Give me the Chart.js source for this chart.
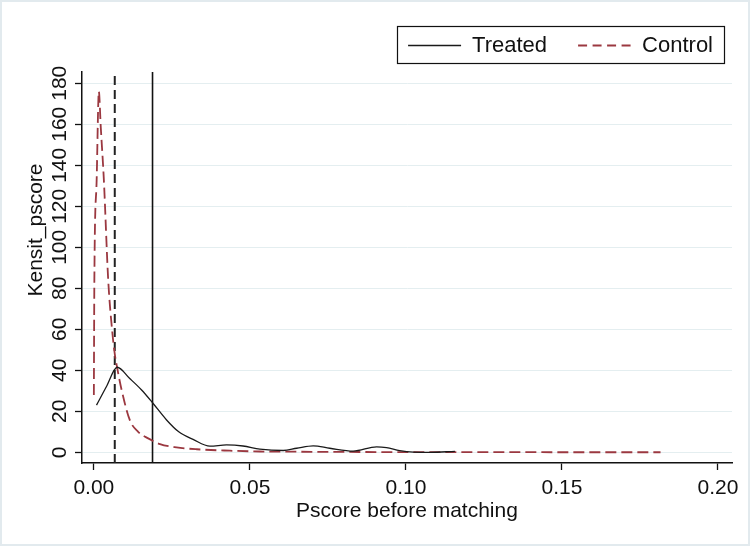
<!DOCTYPE html>
<html>
<head>
<meta charset="utf-8">
<script src="https://cdn.jsdelivr.net/npm/chart.js@4/dist/chart.umd.min.js"></script>
<style>
  html, body { margin: 0; padding: 0; background: #fff; }
  canvas { display: block; }
</style>
</head>
<body>
<canvas id="c" width="750" height="546"></canvas>
<script>
// ---- Data ----
const seriesNames = ["Treated", "Control"];
const treatedX = [0.00085, 0.004, 0.0075, 0.0115, 0.0153, 0.0188, 0.0233, 0.0272, 0.0318, 0.0372, 0.0425, 0.0478, 0.0532, 0.0607, 0.065, 0.0703, 0.0756, 0.0831, 0.0906, 0.0938, 0.098, 0.1024, 0.1077, 0.1157];
const treatedY = [23, 32, 41.5, 36, 30.4, 24.2, 15.8, 10, 6.3, 3.0, 3.6, 3.1, 1.6, 0.9, 2.0, 3.2, 2.0, 0.6, 2.7, 2.3, 0.8, 0.1, 0.0, 0.5];
const controlX = [0.0, 0.00016, 0.0009, 0.0016, 0.0022, 0.0032, 0.0046, 0.0059, 0.0067, 0.0075, 0.0089, 0.0115, 0.0142, 0.0174, 0.0212, 0.0265, 0.033, 0.0436, 0.0532, 0.065, 0.08, 0.1, 0.12, 0.15, 0.1816];
const controlY = [28, 84, 133, 176, 159, 133, 84, 58.8, 48, 41, 30.4, 15.8, 10, 6.8, 4, 2.4, 1.5, 0.8, 0.4, 0.3, 0.2, 0.1, 0.1, 0.05, 0.05];
const refLineX = [0.0067, 0.0188];   // dashed (control mean), solid (treated mean)
const xTickStep = 0.05;
const yTickStep = 20;
const xTitle = "Pscore before matching";
const yTitle = "Kensit_pscore";

// axis ranges
const X_MIN = -0.0038, X_MAX = 0.2045;
const Y_MIN = -5.2, Y_MAX = 185.5;

const FONT = "'Liberation Sans', Arial, Helvetica, sans-serif";
Chart.defaults.font.family = FONT;
Chart.defaults.font.size = 21;
Chart.defaults.color = '#111';

const toPts = (xs, ys) => xs.map((x, i) => ({x: x, y: ys[i]}));

const legendTweak = {
  id: 'legendTweak',
  afterUpdate(chart) {
    const lg = chart.legend;
    if (!lg || !lg.legendHitBoxes || !lg.legendHitBoxes.length) return;
    const hb = lg.legendHitBoxes;
    const last = hb[hb.length - 1];
    const dx = 713 - (last.left + last.width);
    const dy = -5.5;
    lg.left += dx; lg.right += dx; lg.top += dy; lg.bottom += dy;
    hb.forEach(h => { h.left += dx; h.top += dy; });
  },
  afterDraw(chart) {
    const lg = chart.legend;
    const ctx = chart.ctx;
    if (lg && lg.legendHitBoxes && lg.legendHitBoxes.length) {
      const hb = lg.legendHitBoxes;
      const first = hb[0], last = hb[hb.length - 1];
      const cy = first.top + first.height / 2;
      const l = Math.round(first.left - 11) + 0.5;
      const r = Math.round(last.left + last.width + 11) + 0.5;
      const t = Math.round(cy - 20) + 0.5;
      const b = Math.round(cy + 17) + 0.5;
      ctx.save();
      ctx.strokeStyle = '#111';
      ctx.lineWidth = 1.2;
      ctx.setLineDash([]);
      ctx.strokeRect(l, t, r - l, b - t);
      ctx.restore();
    }
    // y axis title
    ctx.save();
    ctx.translate(36, 230);
    ctx.rotate(-Math.PI / 2);
    ctx.font = "21px " + FONT;
    ctx.fillStyle = '#111';
    ctx.textAlign = 'center';
    ctx.textBaseline = 'middle';
    ctx.fillText(yTitle, 0, 0);
    ctx.restore();
    // outer frame
    ctx.save();
    ctx.strokeStyle = '#e2eaee';
    ctx.lineWidth = 2;
    ctx.strokeRect(1, 1, chart.width - 2, chart.height - 2);
    ctx.restore();
  },
  beforeDraw(chart) {
    const ctx = chart.ctx;
    ctx.save();
    ctx.fillStyle = '#fff';
    ctx.fillRect(0, 0, chart.width, chart.height);
    ctx.restore();
  }
};

new Chart(document.getElementById('c'), {
  type: 'line',
  data: {
    datasets: [
      {
        label: seriesNames[0],
        data: toPts(treatedX, treatedY),
        borderColor: '#1a1a1a',
        backgroundColor: '#1a1a1a',
        borderWidth: 1.3,
        pointRadius: 0,
        cubicInterpolationMode: 'monotone',
        fill: false
      },
      {
        label: seriesNames[1],
        data: toPts(controlX, controlY),
        borderColor: '#9b3840',
        backgroundColor: '#9b3840',
        borderWidth: 1.8,
        borderDash: [11, 5],
        pointRadius: 0,
        cubicInterpolationMode: 'monotone',
        fill: false
      },
      {
        label: 'refControl',
        data: [{x: refLineX[0], y: Y_MIN}, {x: refLineX[0], y: Y_MAX}],
        borderColor: '#222',
        borderWidth: 2,
        borderDash: [9, 5],
        pointRadius: 0,
        fill: false
      },
      {
        label: 'refTreated',
        data: [{x: refLineX[1], y: Y_MIN}, {x: refLineX[1], y: Y_MAX}],
        borderColor: '#111',
        borderWidth: 1.6,
        pointRadius: 0,
        fill: false
      }
    ]
  },
  options: {
    responsive: false,
    devicePixelRatio: 1,
    animation: false,
    layout: { padding: { top: 9, right: 18, bottom: 0, left: 0 } },
    plugins: {
      legend: {
        display: true,
        position: 'top',
        align: 'end',
        labels: {
          usePointStyle: true,
          pointStyle: 'line',
          pointStyleWidth: 53,
          padding: 31,
          color: '#111',
          font: { size: 22 },
          filter: item => item.datasetIndex < 2,
          generateLabels: chart => {
            const items = Chart.defaults.plugins.legend.labels.generateLabels(chart);
            items.forEach(it => {
              const ds = chart.data.datasets[it.datasetIndex];
              it.lineWidth = ds.borderWidth;
              it.strokeStyle = ds.borderColor;
              it.lineDash = ds.borderDash ? [9, 5.5] : [];
              it.pointStyle = 'line';
            });
            return items;
          }
        }
      },
      tooltip: { enabled: false }
    },
    scales: {
      x: {
        type: 'linear',
        min: X_MIN,
        max: X_MAX,
        afterFit: s => { s.height = 83; },
        border: { display: true, color: '#111', width: 1.5 },
        grid: { display: true, drawOnChartArea: false, drawTicks: true, tickLength: 7, tickColor: '#111', tickWidth: 1.3 },
        ticks: {
          stepSize: xTickStep,
          includeBounds: false,
          padding: 6,
          maxRotation: 0,
          minRotation: 0,
          color: '#111',
          callback: v => Number(v).toFixed(2)
        },
        title: {
          display: true,
          text: xTitle,
          color: '#111',
          font: { size: 21 },
          padding: { top: 0, bottom: 22 }
        }
      },
      y: {
        type: 'linear',
        min: Y_MIN,
        max: Y_MAX,
        afterFit: s => { s.width = 82; },
        border: { display: true, color: '#111', width: 1.5 },
        grid: { display: true, color: '#e4eef0', lineWidth: 1, drawTicks: true, tickLength: 7, tickColor: '#111', tickWidth: 1.3 },
        ticks: {
          stepSize: yTickStep,
          includeBounds: false,
          minRotation: 90,
          maxRotation: 90,
          crossAlign: 'center',
          padding: -3,
          color: '#111',
          callback: v => String(v)
        }
      }
    }
  },
  plugins: [legendTweak]
});
</script>
</body>
</html>
